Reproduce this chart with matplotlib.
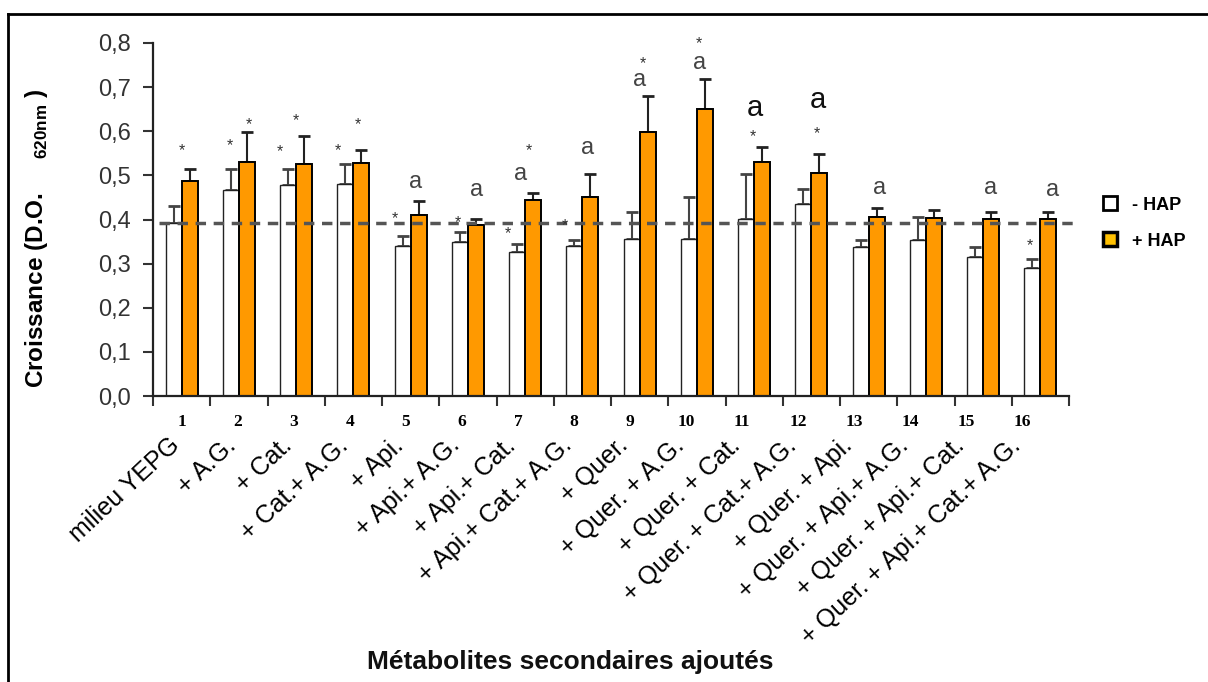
import matplotlib
matplotlib.use('Agg')
import matplotlib.pyplot as plt
from matplotlib.patches import Patch
import numpy as np

plt.rcParams['font.family'] = ['Liberation Sans', 'DejaVu Sans']
plt.rcParams['mathtext.fontset'] = 'custom'
plt.rcParams['mathtext.rm'] = 'Liberation Sans'

# data
groups = list(range(1, 17))
cond_labels = ['milieu YEPG', '+ A.G.', '+ Cat.', '+ Cat.+ A.G.', '+ Api.', '+ Api.+ A.G.',
               '+ Api.+ Cat.', '+ Api.+ Cat.+ A.G.', '+ Quer.', '+ Quer. + A.G.',
               '+ Quer. + Cat.', '+ Quer. + Cat.+ A.G.', '+ Quer. + Api.',
               '+ Quer. + Api.+ A.G.', '+ Quer. + Api.+ Cat.', '+ Quer. + Api.+ Cat.+ A.G.']
sans_hap = [0.393, 0.466, 0.478, 0.481, 0.341, 0.348, 0.326, 0.339,
            0.355, 0.355, 0.401, 0.436, 0.338, 0.354, 0.315, 0.291]
sans_err = [0.038, 0.048, 0.036, 0.044, 0.022, 0.023, 0.018, 0.015,
            0.061, 0.095, 0.103, 0.033, 0.016, 0.052, 0.023, 0.020]
avec_hap = [0.487, 0.531, 0.525, 0.528, 0.410, 0.388, 0.444, 0.450,
            0.598, 0.651, 0.531, 0.506, 0.406, 0.403, 0.401, 0.401]
avec_err = [0.027, 0.067, 0.065, 0.030, 0.031, 0.013, 0.015, 0.053,
            0.082, 0.068, 0.034, 0.043, 0.019, 0.018, 0.016, 0.016]
controle = 0.393
yticks = [0.0, 0.1, 0.2, 0.3, 0.4, 0.5, 0.6, 0.7, 0.8]
ytick_labels = ['0,0', '0,1', '0,2', '0,3', '0,4', '0,5', '0,6', '0,7', '0,8']

# significance marks: group, text, y value, shift inside the group
ann_group = [1, 2, 2, 3, 3, 4, 4, 5, 5, 6, 6, 7, 7, 7, 8, 8,
             9, 9, 10, 10, 11, 11, 12, 12, 13, 15, 16, 16]
ann_text = ['*', '*', '*', '*', '*', '*', '*', '*', 'a', '*', 'a', '*', 'a', '*', '*', 'a',
            'a', '*', 'a', '*', 'a', '*', 'a', '*', 'a', 'a', '*', 'a']
ann_y = [0.568, 0.580, 0.626, 0.565, 0.637, 0.568, 0.628, 0.415, 0.486, 0.405, 0.467,
         0.379, 0.504, 0.568, 0.397, 0.562, 0.716, 0.766, 0.755, 0.810, 0.652, 0.599,
         0.671, 0.607, 0.471, 0.471, 0.352, 0.467]
ann_dx = [0.0, -0.15, 0.18, -0.28, 0.0, -0.27, 0.08, -0.28, 0.09, -0.18, 0.16,
          -0.30, -0.08, 0.06, -0.31, 0.09, 0.0, 0.05, 0.05, 0.03, 0.02, -0.03,
          0.12, 0.09, 0.19, 0.13, -0.19, 0.22]

fig = plt.figure(figsize=(12.08, 6.82), dpi=100)
ax = fig.add_axes([153 / 1208, 1 - 396 / 682, (1069 - 153) / 1208, (396 - 43) / 682])

x = np.array(groups)
w = 0.28
ax.bar(x - 0.14, sans_hap, w, color='white', edgecolor='#222222', linewidth=1.0, zorder=2)
ax.bar(x + 0.14, avec_hap, w, color='#FF9900', edgecolor='black', linewidth=1.4, zorder=2)
ax.errorbar(x - 0.14, sans_hap, yerr=[np.zeros(16), sans_err], fmt='none',
            ecolor='#444444', elinewidth=1.5, capsize=4, capthick=2, zorder=1)
ax.errorbar(x + 0.14, avec_hap, yerr=[np.zeros(16), avec_err], fmt='none',
            ecolor='#222222', elinewidth=1.5, capsize=4, capthick=2, zorder=1)

ax.plot([0.6, 16.6], [controle, controle], color='#555555', linestyle=(0, (3, 2.2)),
        linewidth=2.5, clip_on=False, zorder=3)

for g, t, yv, dx in zip(ann_group, ann_text, ann_y, ann_dx):
    if t == '*':
        ax.text(g + dx, yv - 0.012, t, ha='center', va='center', fontsize=11.5, color='#333333')
    else:
        big = g in (11, 12)
        ax.text(g + dx, yv, t, ha='center', va='center', fontsize=21 if big else 17,
                color='#111111' if big else '#444444')

ax.set_xlim(0.5, 16.5)
ax.set_ylim(0, 0.8)
ax.set_xticks(np.arange(0.5, 17, 1))
ax.set_xticklabels([])
ax.set_yticks(yticks)
ax.set_yticklabels(ytick_labels, fontsize=17, color='#333333')
ax.tick_params(axis='both', direction='out', length=7, width=1.5, pad=9, color='#333333')
for s in ['top', 'right']:
    ax.spines[s].set_visible(False)
for s in ['left', 'bottom']:
    ax.spines[s].set_linewidth(1.6)
    ax.spines[s].set_color('#222222')

# the category labels sit a little tighter than the bar groups
for g, lab in zip(groups, cond_labels):
    lx = g - (g - 1) * 0.021
    ax.annotate(str(g), xy=(lx, 0), xycoords=('data', 'axes fraction'), xytext=(0, -19),
                textcoords='offset points', ha='center', va='center', fontsize=12.5,
                fontweight='bold', family='Liberation Serif')
    ax.annotate(lab, xy=(lx, 0), xycoords=('data', 'axes fraction'), xytext=(-4, -33),
                textcoords='offset points', ha='right', va='center', rotation=43,
                rotation_mode='anchor', fontsize=18)

fig.text(37 / 1208, 1 - 238 / 682, 'Croissance (D.O.     $_{\\mathregular{620nm}}$ )', rotation=90,
         ha='center', va='center', fontsize=17.5, fontweight='bold')
fig.text(570 / 1208, 1 - 662 / 682, 'Métabolites secondaires ajoutés', ha='center', va='center',
         fontsize=19, fontweight='bold', color='#111111')

handles = [Patch(facecolor='white', edgecolor='black', linewidth=2),
           Patch(facecolor='#FFC000', edgecolor='black', linewidth=2.5)]
fig.legend(handles, ['- HAP', '+ HAP'], loc='center left', bbox_to_anchor=(1103 / 1208, 1 - 223 / 682),
           frameon=False, prop={'weight': 'bold', 'size': 13}, handlelength=0.8, handleheight=0.8,
           handletextpad=0.8, labelspacing=1.05, borderpad=0, borderaxespad=0)

# outer frame
fig.add_artist(plt.Line2D([8 / 1208, 1], [1 - 14 / 682, 1 - 14 / 682], color='black', linewidth=2))
fig.add_artist(plt.Line2D([8 / 1208, 8 / 1208], [0, 1 - 14 / 682], color='black', linewidth=2))

fig.savefig('out.png', dpi=100)
